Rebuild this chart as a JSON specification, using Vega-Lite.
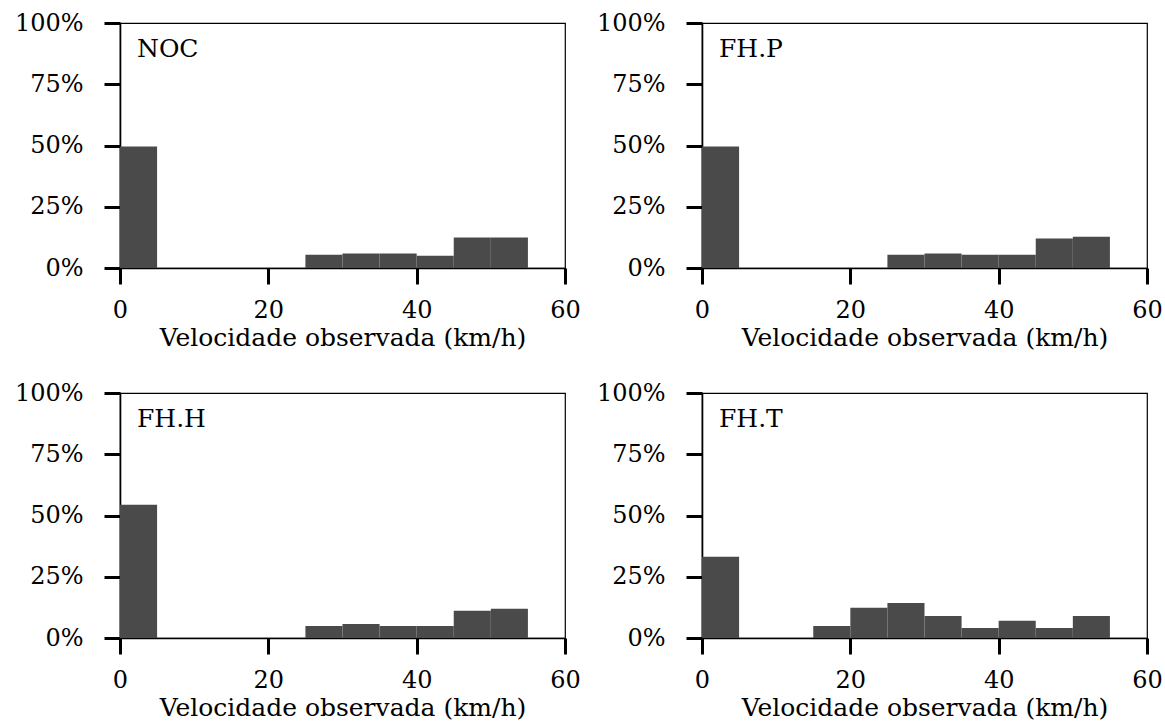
{
  "$schema": "https://vega.github.io/schema/vega-lite/v6.json",
  "background": "white",
  "padding": {"left": 13, "top": 10, "right": 5, "bottom": 0},
  "datasets": {
    "hist": [
      {"panel": "NOC", "start": 0, "end": 5, "share": 0.496},
      {"panel": "NOC", "start": 5, "end": 10, "share": 0},
      {"panel": "NOC", "start": 10, "end": 15, "share": 0},
      {"panel": "NOC", "start": 15, "end": 20, "share": 0},
      {"panel": "NOC", "start": 20, "end": 25, "share": 0},
      {"panel": "NOC", "start": 25, "end": 30, "share": 0.054},
      {"panel": "NOC", "start": 30, "end": 35, "share": 0.059},
      {"panel": "NOC", "start": 35, "end": 40, "share": 0.059},
      {"panel": "NOC", "start": 40, "end": 45, "share": 0.05},
      {"panel": "NOC", "start": 45, "end": 50, "share": 0.124},
      {"panel": "NOC", "start": 50, "end": 55, "share": 0.124},
      {"panel": "FH.P", "start": 0, "end": 5, "share": 0.496},
      {"panel": "FH.P", "start": 5, "end": 10, "share": 0},
      {"panel": "FH.P", "start": 10, "end": 15, "share": 0},
      {"panel": "FH.P", "start": 15, "end": 20, "share": 0},
      {"panel": "FH.P", "start": 20, "end": 25, "share": 0},
      {"panel": "FH.P", "start": 25, "end": 30, "share": 0.054},
      {"panel": "FH.P", "start": 30, "end": 35, "share": 0.059},
      {"panel": "FH.P", "start": 35, "end": 40, "share": 0.054},
      {"panel": "FH.P", "start": 40, "end": 45, "share": 0.054},
      {"panel": "FH.P", "start": 45, "end": 50, "share": 0.12},
      {"panel": "FH.P", "start": 50, "end": 55, "share": 0.128},
      {"panel": "FH.H", "start": 0, "end": 5, "share": 0.544},
      {"panel": "FH.H", "start": 5, "end": 10, "share": 0},
      {"panel": "FH.H", "start": 10, "end": 15, "share": 0},
      {"panel": "FH.H", "start": 15, "end": 20, "share": 0},
      {"panel": "FH.H", "start": 20, "end": 25, "share": 0},
      {"panel": "FH.H", "start": 25, "end": 30, "share": 0.049},
      {"panel": "FH.H", "start": 30, "end": 35, "share": 0.057},
      {"panel": "FH.H", "start": 35, "end": 40, "share": 0.049},
      {"panel": "FH.H", "start": 40, "end": 45, "share": 0.049},
      {"panel": "FH.H", "start": 45, "end": 50, "share": 0.111},
      {"panel": "FH.H", "start": 50, "end": 55, "share": 0.119},
      {"panel": "FH.T", "start": 0, "end": 5, "share": 0.332},
      {"panel": "FH.T", "start": 5, "end": 10, "share": 0},
      {"panel": "FH.T", "start": 10, "end": 15, "share": 0},
      {"panel": "FH.T", "start": 15, "end": 20, "share": 0.049},
      {"panel": "FH.T", "start": 20, "end": 25, "share": 0.123},
      {"panel": "FH.T", "start": 25, "end": 30, "share": 0.143},
      {"panel": "FH.T", "start": 30, "end": 35, "share": 0.09},
      {"panel": "FH.T", "start": 35, "end": 40, "share": 0.041},
      {"panel": "FH.T", "start": 40, "end": 45, "share": 0.07},
      {"panel": "FH.T", "start": 45, "end": 50, "share": 0.041},
      {"panel": "FH.T", "start": 50, "end": 55, "share": 0.09}
    ]
  },
  "data": {"name": "hist"},
  "columns": 2,
  "spacing": {"column": 14, "row": 29},
  "concat": [
    {
      "transform": [{"filter": "datum.panel === 'NOC'"}],
      "width": 445,
      "height": 245,
      "layer": [
        {
          "mark": {"type": "bar", "color": "#4a4a4a", "stroke": null},
          "encoding": {
            "x": {"field": "start", "type": "quantitative", "scale": {"domain": [0, 60], "nice": false, "zero": false}, "axis": {"values": [0, 20, 40, 60], "title": "Velocidade observada (km/h)"}},
            "x2": {"field": "end"},
            "y": {"field": "share", "type": "quantitative", "scale": {"domain": [0, 1], "nice": false}, "axis": {"values": [0, 0.25, 0.5, 0.75, 1], "format": ".0%", "title": null}},
            "y2": {"datum": 0}
          }
        },
        {
          "transform": [{"filter": "datum.start === 0"}],
          "mark": {"type": "text", "align": "left", "baseline": "top", "dx": 17, "dy": 14, "font": "DejaVu Serif", "fontSize": 25, "color": "black"},
          "encoding": {"x": {"datum": 0, "type": "quantitative"}, "y": {"datum": 1, "type": "quantitative"}, "text": {"field": "panel"}}
        }
      ]
    },
    {
      "transform": [{"filter": "datum.panel === 'FH.P'"}],
      "width": 445,
      "height": 245,
      "layer": [
        {
          "mark": {"type": "bar", "color": "#4a4a4a", "stroke": null},
          "encoding": {
            "x": {"field": "start", "type": "quantitative", "scale": {"domain": [0, 60], "nice": false, "zero": false}, "axis": {"values": [0, 20, 40, 60], "title": "Velocidade observada (km/h)"}},
            "x2": {"field": "end"},
            "y": {"field": "share", "type": "quantitative", "scale": {"domain": [0, 1], "nice": false}, "axis": {"values": [0, 0.25, 0.5, 0.75, 1], "format": ".0%", "title": null}},
            "y2": {"datum": 0}
          }
        },
        {
          "transform": [{"filter": "datum.start === 0"}],
          "mark": {"type": "text", "align": "left", "baseline": "top", "dx": 17, "dy": 14, "font": "DejaVu Serif", "fontSize": 25, "color": "black"},
          "encoding": {"x": {"datum": 0, "type": "quantitative"}, "y": {"datum": 1, "type": "quantitative"}, "text": {"field": "panel"}}
        }
      ]
    },
    {
      "transform": [{"filter": "datum.panel === 'FH.H'"}],
      "width": 445,
      "height": 245,
      "layer": [
        {
          "mark": {"type": "bar", "color": "#4a4a4a", "stroke": null},
          "encoding": {
            "x": {"field": "start", "type": "quantitative", "scale": {"domain": [0, 60], "nice": false, "zero": false}, "axis": {"values": [0, 20, 40, 60], "title": "Velocidade observada (km/h)"}},
            "x2": {"field": "end"},
            "y": {"field": "share", "type": "quantitative", "scale": {"domain": [0, 1], "nice": false}, "axis": {"values": [0, 0.25, 0.5, 0.75, 1], "format": ".0%", "title": null}},
            "y2": {"datum": 0}
          }
        },
        {
          "transform": [{"filter": "datum.start === 0"}],
          "mark": {"type": "text", "align": "left", "baseline": "top", "dx": 17, "dy": 14, "font": "DejaVu Serif", "fontSize": 25, "color": "black"},
          "encoding": {"x": {"datum": 0, "type": "quantitative"}, "y": {"datum": 1, "type": "quantitative"}, "text": {"field": "panel"}}
        }
      ]
    },
    {
      "transform": [{"filter": "datum.panel === 'FH.T'"}],
      "width": 445,
      "height": 245,
      "layer": [
        {
          "mark": {"type": "bar", "color": "#4a4a4a", "stroke": null},
          "encoding": {
            "x": {"field": "start", "type": "quantitative", "scale": {"domain": [0, 60], "nice": false, "zero": false}, "axis": {"values": [0, 20, 40, 60], "title": "Velocidade observada (km/h)"}},
            "x2": {"field": "end"},
            "y": {"field": "share", "type": "quantitative", "scale": {"domain": [0, 1], "nice": false}, "axis": {"values": [0, 0.25, 0.5, 0.75, 1], "format": ".0%", "title": null}},
            "y2": {"datum": 0}
          }
        },
        {
          "transform": [{"filter": "datum.start === 0"}],
          "mark": {"type": "text", "align": "left", "baseline": "top", "dx": 17, "dy": 14, "font": "DejaVu Serif", "fontSize": 25, "color": "black"},
          "encoding": {"x": {"datum": 0, "type": "quantitative"}, "y": {"datum": 1, "type": "quantitative"}, "text": {"field": "panel"}}
        }
      ]
    }
  ],
  "config": {
    "view": {"stroke": "black", "strokeWidth": 1.2},
    "axis": {
      "grid": false,
      "domainColor": "black",
      "domainWidth": 1.6,
      "tickColor": "black",
      "tickWidth": 3,
      "tickSize": 16,
      "labelFont": "DejaVu Serif",
      "labelFontSize": 24,
      "labelColor": "black",
      "titleFont": "DejaVu Serif",
      "titleFontSize": 25,
      "titleFontWeight": "normal",
      "titleColor": "black"
    },
    "axisX": {"labelPadding": 14, "titlePadding": 3, "labelFlush": false},
    "axisY": {"labelPadding": 21, "labelFlush": false}
  }
}
